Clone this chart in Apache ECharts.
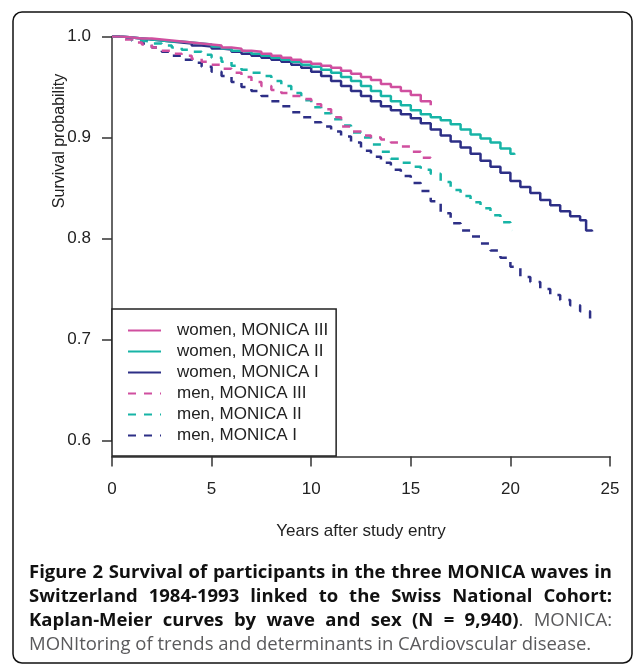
<!DOCTYPE html>
<html><head><meta charset="utf-8">
<script src="https://cdn.jsdelivr.net/npm/echarts@6/dist/echarts.min.js"></script>
<style>html,body{margin:0;padding:0;background:#fff}#chart{width:634px;height:665px}</style>
</head><body><div id="chart"></div>
<script>
// ---- data (years after entry, survival probability) ----
const seriesNames = ['women, MONICA III','women, MONICA II','women, MONICA I','men, MONICA III','men, MONICA II','men, MONICA I'];
const xTicks = [0,5,10,15,20,25];
const yTicks = [0.6,0.7,0.8,0.9,1.0];

const womenIII = [[0,1.0],[0.5,0.999],[1,0.998],[1.5,0.998],[2,0.997],[2.5,0.996],[3,0.995],[3.5,0.994],[4,0.993],[4.5,0.992],[5,0.991],[5.5,0.989],[6,0.988],[6.5,0.986],[7,0.985],[7.5,0.983],[8,0.981],[8.5,0.979],[9,0.977],[9.5,0.975],[10,0.973],[10.5,0.971],[11,0.969],[11.5,0.966],[12,0.963],[12.5,0.960],[13,0.957],[13.5,0.953],[14,0.950],[14.5,0.946],[15,0.942],[15.5,0.936],[16,0.932]];
const womenII = [[0,1.0],[0.5,0.999],[1,0.998],[1.5,0.997],[2,0.996],[2.5,0.995],[3,0.995],[3.5,0.994],[4,0.993],[4.5,0.992],[5,0.990],[5.5,0.988],[6,0.986],[6.5,0.985],[7,0.983],[7.5,0.981],[8,0.979],[8.5,0.977],[9,0.975],[9.5,0.972],[10,0.970],[10.5,0.967],[11,0.964],[11.5,0.960],[12,0.956],[12.5,0.951],[13,0.946],[13.5,0.941],[14,0.936],[14.5,0.932],[15,0.927],[15.5,0.923],[16,0.920],[16.5,0.917],[17,0.913],[17.5,0.908],[18,0.903],[18.5,0.899],[19,0.895],[19.5,0.889],[20,0.884],[20.2,0.883]];
const womenI = [[0,1.0],[0.5,0.999],[1,0.998],[1.5,0.997],[2,0.996],[2.5,0.995],[3,0.994],[3.5,0.993],[4,0.991],[4.5,0.990],[5,0.988],[5.5,0.987],[6,0.985],[6.5,0.983],[7,0.981],[7.5,0.979],[8,0.977],[8.5,0.975],[9,0.972],[9.5,0.969],[10,0.965],[10.5,0.961],[11,0.956],[11.5,0.951],[12,0.946],[12.5,0.941],[13,0.936],[13.5,0.931],[14,0.927],[14.5,0.923],[15,0.919],[15.5,0.914],[16,0.908],[16.5,0.902],[17,0.896],[17.5,0.890],[18,0.884],[18.5,0.877],[19,0.871],[19.5,0.865],[20,0.857],[20.5,0.851],[21,0.845],[21.5,0.838],[22,0.833],[22.5,0.827],[23,0.822],[23.5,0.818],[23.8,0.808],[24.1,0.807]];
const menIII = [[0,1.0],[0.5,0.997],[1,0.994],[1.5,0.992],[2,0.989],[2.5,0.986],[3,0.983],[3.5,0.981],[4,0.978],[4.5,0.975],[5,0.972],[5.5,0.968],[6,0.964],[6.5,0.960],[7,0.955],[7.5,0.951],[8,0.947],[8.5,0.944],[9,0.941],[9.5,0.938],[10,0.933],[10.5,0.928],[11,0.920],[11.5,0.911],[12,0.906],[12.5,0.902],[13,0.900],[13.5,0.898],[14,0.895],[14.5,0.891],[15,0.886],[15.5,0.880],[16,0.874]];
const menII = [[0,1.0],[0.5,0.998],[1,0.996],[1.5,0.995],[2,0.993],[2.5,0.991],[3,0.989],[3.5,0.987],[4,0.985],[4.5,0.982],[5,0.979],[5.5,0.975],[6,0.971],[6.5,0.967],[7,0.964],[7.5,0.961],[8,0.956],[8.5,0.951],[9,0.944],[9.5,0.937],[10,0.930],[10.5,0.924],[11,0.918],[11.5,0.912],[12,0.905],[12.5,0.900],[13,0.893],[13.5,0.886],[14,0.879],[14.5,0.875],[15,0.871],[15.5,0.868],[16,0.864],[16.5,0.856],[17,0.848],[17.5,0.842],[18,0.836],[18.5,0.830],[19,0.823],[19.5,0.816],[20,0.810],[20.1,0.808]];
const menI = [[0,1.0],[0.5,0.998],[1,0.996],[1.5,0.993],[2,0.989],[2.5,0.985],[3,0.981],[3.5,0.977],[4,0.974],[4.5,0.970],[5,0.965],[5.5,0.961],[6,0.955],[6.5,0.950],[7,0.946],[7.5,0.941],[8,0.936],[8.5,0.931],[9,0.925],[9.5,0.920],[10,0.915],[10.5,0.911],[11,0.906],[11.5,0.901],[12,0.895],[12.5,0.887],[13,0.881],[13.5,0.875],[14,0.868],[14.5,0.862],[15,0.855],[15.5,0.847],[16,0.837],[16.5,0.825],[17,0.815],[17.5,0.808],[18,0.802],[18.5,0.795],[19,0.788],[19.5,0.781],[20,0.772],[20.5,0.762],[21,0.757],[21.5,0.750],[22,0.744],[22.5,0.739],[23,0.734],[23.5,0.728],[24,0.720]];

const seriesData = [womenIII, womenII, womenI, menIII, menII, menI];
const seriesColors = ['#d04f9f','#17b4a6','#2d2f86','#d04f9f','#17b4a6','#2d2f86'];
const seriesDashed = [false,false,false,true,true,true];

const captionLines = [
  [{t:'Figure 2 Survival of participants in the three MONICA waves in', b:true}],
  [{t:'Switzerland 1984-1993 linked to the Swiss National Cohort:', b:true}],
  [{t:'Kaplan-Meier curves by wave and sex (N = 9,940)', b:true},{t:'. MONICA:', b:false}],
  [{t:'MONItoring of trends and determinants in CArdiovscular disease.', b:false}]
];

// ---- chart ----
const chart = echarts.init(document.getElementById('chart'), null, {renderer:'canvas'});
const AX = 'Liberation Sans, Arial, Helvetica, sans-serif';
const CF = 'Open Sans';

function captionGraphics() {
  const ctx = document.createElement('canvas').getContext('2d');
  const x0 = 29, x1 = 612, y0 = 573, lh = 23.8;
  let size = 18.5;
  const fontOf = b => (b ? 'bold ' : '') + size + 'px "' + CF + '"';
  const measure = (t, b) => { ctx.font = fontOf(b); return ctx.measureText(t).width; };
  const lineWords = captionLines.map(segs => {
    const words = []; let cur = null;
    segs.forEach(s => {
      s.t.split(' ').forEach((p, i) => {
        if (i > 0) cur = null;
        if (p === '') return;
        if (!cur) { cur = []; words.push(cur); }
        cur.push({t:p, b:s.b});
      });
    });
    return words;
  });
  let maxNat = 0;
  lineWords.forEach(words => {
    const w = words.reduce((a, wd) => a + wd.reduce((c, p) => c + measure(p.t, p.b), 0), 0) + (words.length - 1) * measure(' ', words[0][0].b);
    maxNat = Math.max(maxNat, w);
  });
  if (maxNat > x1 - x0) size = size * (x1 - x0) / maxNat;
  const out = [];
  lineWords.forEach((words, li) => {
    const ww = words.map(w => w.reduce((a, p) => a + measure(p.t, p.b), 0));
    const total = ww.reduce((a, v) => a + v, 0);
    const justify = li < lineWords.length - 1;
    const gap = justify ? (x1 - x0 - total) / (words.length - 1) : measure(' ', false);
    let x = x0;
    words.forEach((w, wi) => {
      let px = x;
      w.forEach(p => {
        out.push({type:'text', x:px, y:y0 + li*lh, silent:true,
          style:{text:p.t, fontSize:size, fontFamily:CF, fontWeight:p.b?'bold':'normal',
            fill:p.b?'#111111':'#5a5a5c', textAlign:'left', textVerticalAlign:'middle'}});
        px += measure(p.t, p.b);
      });
      x += ww[wi] + gap;
    });
  });
  return out;
}

const option = {
  backgroundColor:'#ffffff',
  animation:false,
  grid:{left:112, right:24, top:36.5, bottom:224.5, containLabel:false, outerBoundsMode:'none'},
  xAxis:{type:'value', min:xTicks[0], max:xTicks[xTicks.length-1], interval:5, offset:16,
    axisLine:{show:true, lineStyle:{color:'#666', width:2}},
    axisTick:{show:true, length:10, lineStyle:{color:'#333', width:1.5}},
    axisLabel:{margin:24, fontSize:17, fontFamily:AX, color:'#222'},
    splitLine:{show:false}},
  yAxis:{type:'value', min:yTicks[0], max:yTicks[yTicks.length-1], interval:0.1,
    axisLine:{show:true, lineStyle:{color:'#333', width:1.5}},
    axisTick:{show:true, length:10, lineStyle:{color:'#333', width:1.5}},
    axisLabel:{margin:21, fontSize:17, fontFamily:AX, color:'#222', formatter:v => v.toFixed(1)},
    splitLine:{show:false}},
  legend:{orient:'vertical', left:112, top:309, itemWidth:33, itemHeight:14, itemGap:4,
    padding:[13,8,12,15], borderColor:'#222', borderWidth:1.5, backgroundColor:'#fff',
    itemStyle:{opacity:0},
    textStyle:{fontSize:17, fontFamily:AX, color:'#222', padding:[0,0,0,11]},
    data:seriesNames},
  graphic:[
    {type:'rect', silent:true, z:-10, shape:{x:13, y:12, width:619, height:651, r:9},
      style:{fill:'none', stroke:'#111', lineWidth:1.5}},
    {type:'text', x:60, y:141, rotation:Math.PI/2, silent:true,
      style:{text:'Survival probability', fontSize:16, fontFamily:AX, fill:'#222', textAlign:'center', textVerticalAlign:'middle'}},
    {type:'text', x:361, y:531, silent:true,
      style:{text:'Years after study entry', fontSize:17, fontFamily:AX, fill:'#222', textAlign:'center', textVerticalAlign:'middle'}}
  ].concat(captionGraphics()),
  series: seriesNames.map((n, i) => ({
    name:n, type:'line', step:'end', symbol:'none', showSymbol:false,
    data:seriesData[i], z: 10 - i,
    lineStyle:{color:seriesColors[i], width:2.5, type: seriesDashed[i] ? [8,8] : 'solid'},
    itemStyle:{color:seriesColors[i]}
  }))
};
chart.setOption(option);
</script></body></html>
